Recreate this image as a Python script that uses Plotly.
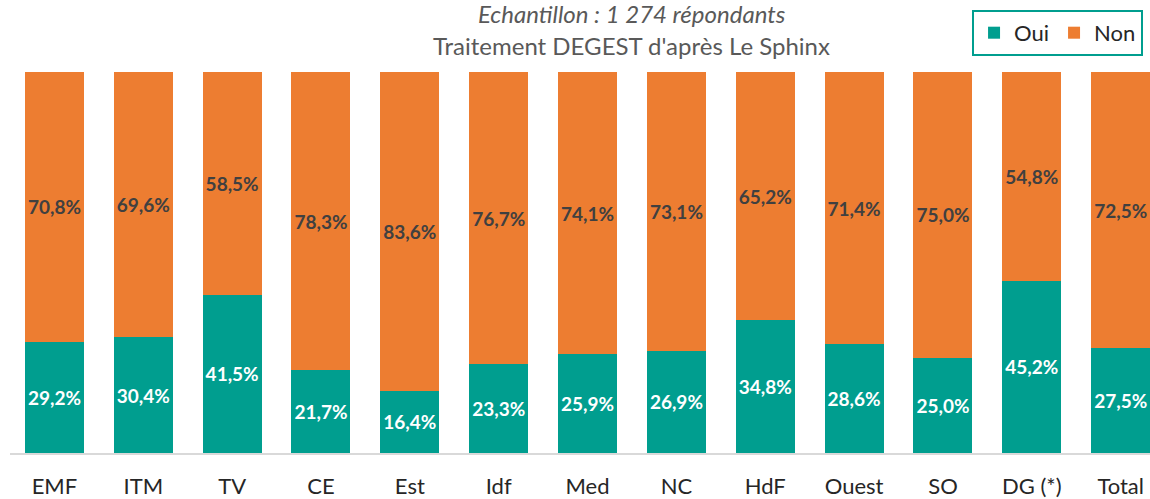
import plotly.graph_objects as go

categories = ["EMF", "ITM", "TV", "CE", "Est", "Idf", "Med", "NC", "HdF", "Ouest", "SO", "DG (*)", "Total"]
oui = [29.2, 30.4, 41.5, 21.7, 16.4, 23.3, 25.9, 26.9, 34.8, 28.6, 25.0, 45.2, 27.5]
non = [70.8, 69.6, 58.5, 78.3, 83.6, 76.7, 74.1, 73.1, 65.2, 71.4, 75.0, 54.8, 72.5]

TEAL = "#009E8F"
ORANGE = "#ED7D31"

def fmt(v):
    return f"{v:.1f}%".replace(".", ",")

fig = go.Figure()
fig.add_trace(go.Bar(
    name="Oui", x=categories, y=oui, marker_color=TEAL, marker_line_width=0,
    text=[fmt(v) for v in oui], textposition="inside", insidetextanchor="middle",
    textangle=0, constraintext="none",
    textfont=dict(family="Lato", size=19, color="white", weight="bold"),
))
fig.add_trace(go.Bar(
    name="Non", x=categories, y=non, marker_color=ORANGE, marker_line_width=0,
    text=[fmt(v) for v in non], textposition="inside", insidetextanchor="middle",
    textangle=0, constraintext="none",
    textfont=dict(family="Lato", size=19, color="#404040", weight="bold"),
))

fig.update_layout(
    width=1150, height=499,
    barmode="stack", bargap=0.336,
    margin=dict(l=10, r=0, t=72, b=42),
    plot_bgcolor="white", paper_bgcolor="white",
    font=dict(family="Lato", color="#404040"),
    showlegend=True,
    legend=dict(
        orientation="h", x=0.9939, y=1.163, xanchor="right", yanchor="top",
        bordercolor=TEAL, borderwidth=2, font=dict(size=22, color="#262626"),
        itemwidth=30, traceorder="normal", itemclick=False,
    ),
    xaxis=dict(
        range=[-0.5, 12.33], showline=True, linecolor="#D9D9D9", linewidth=2,
        showgrid=False, ticks="", tickfont=dict(family="Lato", size=22, color="#262626"),
        ticklabelstandoff=13,
    ),
    yaxis=dict(range=[0, 100], visible=False, showgrid=False),
    annotations=[
        dict(text="<i>Echantillon : 1 274 répondants</i>", xref="paper", yref="paper",
             x=0.5456, y=1.153, yanchor="middle", showarrow=False,
             font=dict(size=24, color="#595959")),
        dict(text="Traitement DEGEST d'après Le Sphinx", xref="paper", yref="paper",
             x=0.5456, y=1.070, yanchor="middle", showarrow=False,
             font=dict(size=24, color="#595959")),
    ],
)

fig.write_html("out.html", config={"displayModeBar": False},
               post_script="document.body.style.margin='0';")
